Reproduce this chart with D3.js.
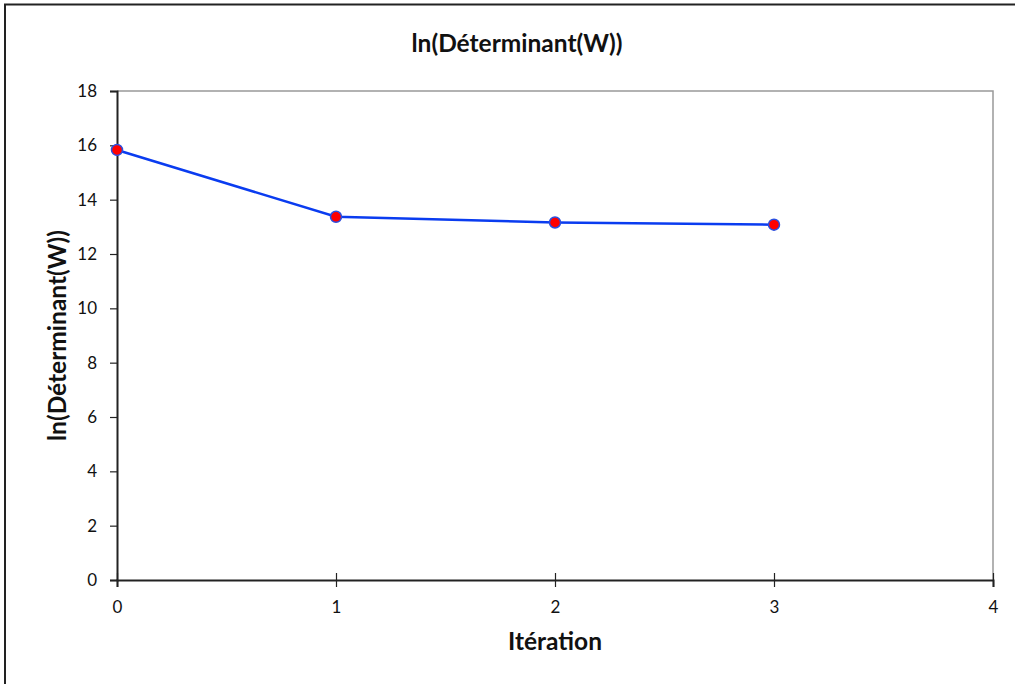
<!DOCTYPE html>
<html><head><meta charset="utf-8">
<script src="https://cdn.jsdelivr.net/npm/d3@7"></script>
<style>body{margin:0;background:#fff}svg{display:block}</style>
</head><body>
<svg id="c" width="1015" height="684"></svg>
<script>
const iterations = [0, 1, 2, 3];
const lnDet = [15.83, 13.37, 13.16, 13.08];
const xTicks = [0, 1, 2, 3, 4];
const yTicks = [0, 2, 4, 6, 8, 10, 12, 14, 16, 18];
const title = "ln(Déterminant(W))";
const xTitle = "Itération";
const yTitle = "ln(Déterminant(W))";

const svg = d3.select("#c");
const font = "Lato, 'Open Sans', sans-serif";
const L = 117, R = 993, T = 91, B = 580;
const x = d3.scaleLinear().domain([0, 4]).range([L, R]);
const y = d3.scaleLinear().domain([0, 18]).range([B, T]);

// outer border
svg.append("rect").attr("x", 5).attr("y", 4.5).attr("width", 1030).attr("height", 700)
  .attr("fill", "none").attr("stroke", "#222").attr("stroke-width", 2);

// plot frame top/right gray
svg.append("path").attr("d", `M${L},${T}H${R}V${B}`).attr("fill", "none")
  .attr("stroke", "#999").attr("stroke-width", 1.5);

// y axis
const ya = svg.append("g").attr("transform", `translate(${L},0)`)
  .call(d3.axisLeft(y).tickValues(yTicks).tickSize(7).tickPadding(13).tickFormat(d3.format("d")));
ya.select(".domain").attr("stroke", "#222").attr("stroke-width", 2);
ya.selectAll(".tick line").attr("stroke", "#222").attr("stroke-width", 1.2);
ya.selectAll("text").attr("font-family", font).attr("font-size", 17).attr("fill", "#111");

// x axis
const xa = svg.append("g").attr("transform", `translate(0,${B})`)
  .call(d3.axisBottom(x).tickValues(xTicks).tickSize(7).tickPadding(14).tickFormat(d3.format("d")));
xa.select(".domain").attr("stroke", "#222").attr("stroke-width", 2);
xa.selectAll(".tick line").attr("stroke", "#222").attr("stroke-width", 1.2).attr("y1", -7);
xa.selectAll("text").attr("font-family", font).attr("font-size", 17).attr("fill", "#111");

// line
const pts = iterations.map((d, i) => [d, lnDet[i]]);
svg.append("path").datum(pts)
  .attr("d", d3.line().x(d => x(d[0])).y(d => y(d[1])))
  .attr("fill", "none").attr("stroke", "#0a3cf0").attr("stroke-width", 2.5);
svg.selectAll("circle.pt").data(pts).join("circle").attr("class", "pt")
  .attr("cx", d => x(d[0])).attr("cy", d => y(d[1])).attr("r", 5.5)
  .attr("fill", "#ff0000").attr("stroke", "#2a4fe0").attr("stroke-width", 1.5);

// titles
svg.append("text").attr("x", 517).attr("y", 52).attr("text-anchor", "middle")
  .attr("font-family", font).attr("font-weight", "bold").attr("font-size", 24.5).attr("fill", "#111").text(title);
svg.append("text").attr("x", (L + R) / 2).attr("y", 650).attr("text-anchor", "middle")
  .attr("font-family", font).attr("font-weight", "bold").attr("font-size", 24.5).attr("fill", "#111").text(xTitle);
svg.append("text").attr("transform", `translate(66,${(T + B) / 2}) rotate(-90)`).attr("text-anchor", "middle")
  .attr("font-family", font).attr("font-weight", "bold").attr("font-size", 24.5).attr("fill", "#111").text(yTitle);
</script>
</body></html>
